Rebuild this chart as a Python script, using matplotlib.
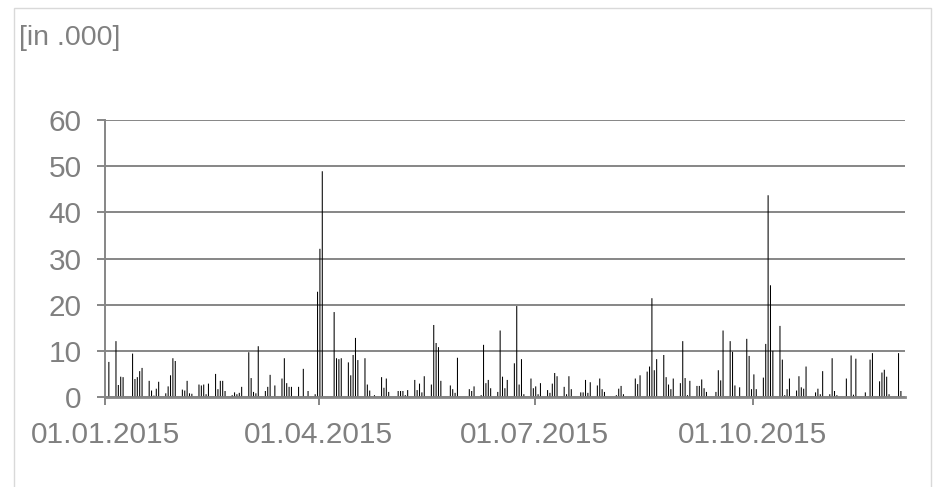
import matplotlib
matplotlib.use("Agg")
import matplotlib.pyplot as plt
import numpy as np
import pandas as pd
from matplotlib.patches import Rectangle

# ---- data: daily values (in thousands) on business days, 01.01.2015 - 02.12.2015 ----
start_date = "2015-01-01"
end_date = "2015-12-02"
values = [
    0, 7.6,                       # Thu 01.01, Fri 02.01
    12.1, 2.6, 4.4, 4.3, 0,
    9.4, 3.9, 4.3, 5.6, 6.3,
    3.5, 1.4, 0.3, 1.8, 3.3,
    0.8, 2.3, 4.7, 8.4, 7.8,
    1.6, 1.4, 3.5, 0.8, 0.7,
    2.7, 2.5, 2.7, 0.6, 2.9,
    5.0, 1.7, 3.5, 3.5, 1.3,
    0.4, 1.0, 0.6, 0.9, 2.2,
    9.7, 4.1, 1.1, 0.8, 11.0,
    1.3, 2.2, 4.8, 0, 2.5,
    4.0, 8.4, 3.0, 2.2, 2.2,
    2.2, 0, 6.1, 0, 1.3,
    0.6, 22.8, 32.1, 48.9, 0,
    0, 18.4, 8.4, 8.2, 8.4,
    7.5, 4.7, 9.1, 12.8, 8.0,
    8.4, 2.7, 1.4, 0, 0.4,
    4.3, 2.0, 4.0, 1.1, 0,
    1.3, 1.3, 1.3, 0.4, 1.5,
    3.7, 1.5, 2.9, 1.0, 4.5,
    2.7, 15.6, 11.7, 10.8, 3.5,
    0, 2.5, 1.7, 0.9, 8.5,
    0, 0, 1.7, 1.3, 2.3,
    0.4, 11.3, 3.0, 3.7, 1.9,
    1.1, 14.4, 4.4, 1.9, 3.7,
    7.3, 19.7, 2.7, 8.2, 0.6,
    4.0, 1.9, 2.3, 0.6, 3.0,
    1.5, 0.9, 2.9, 5.2, 4.5,
    2.2, 0.6, 4.5, 1.7, 0,
    1.0, 1.0, 3.7, 0.9, 3.2,
    2.5, 4.0, 1.7, 1.1, 0,
    0, 0.4, 1.8, 2.4, 0.6,
    0, 0, 4.0, 2.8, 4.7,
    5.5, 6.6, 21.4, 5.8, 8.2,
    9.1, 4.3, 2.7, 1.7, 4.0,
    3.0, 12.1, 4.1, 0.4, 3.5,
    2.4, 2.4, 3.8, 1.9, 1.1,
    0, 1.1, 5.8, 3.6, 14.4,
    12.1, 9.8, 2.5, 0, 2.1,
    12.6, 8.9, 1.7, 4.9, 1.7,
    4.2, 11.5, 43.7, 24.2, 10.0,
    15.4, 8.1, 0.4, 1.7, 4.0,
    1.4, 4.5, 2.1, 1.8, 6.6,
    0, 1.0, 1.8, 0.6, 5.6,
    0.6, 8.4, 1.3, 0.4, 0,
    4.0, 0, 9.0, 0.5, 8.3,
    0, 1.0, 0, 8.1, 9.5,
    3.4, 5.3, 5.9, 4.4, 0.6,
    0, 9.5, 1.3,
]
tick_dates = ["2015-01-01", "2015-04-01", "2015-07-01", "2015-10-01"]
tick_labels = ["01.01.2015", "01.04.2015", "01.07.2015", "01.10.2015"]
y_ticks = [0, 10, 20, 30, 40, 50, 60]
unit_label = "[in .000]"

dates = pd.bdate_range(start_date, end_date)
t0 = pd.Timestamp(start_date)
day_idx = np.array([(d - t0).days for d in dates])
vals = np.array(values[:len(day_idx)])

plt.rcParams["font.family"] = ["Liberation Sans", "DejaVu Sans"]
W, H = 939, 487
fig = plt.figure(figsize=(W / 100, H / 100), dpi=100)

grey = "#868686"
txt = "#808080"

# outer chart frame
fig.patches.append(Rectangle((13.5 / W, -0.05), (931 - 13.5) / W, 1.05 - 8.5 / H,
                             transform=fig.transFigure, fill=False,
                             edgecolor="#d9d9d9", lw=1.0))

left, right, top, bottom = 105.3, 904.7, 120, 397
ax = fig.add_axes([left / W, 1 - bottom / H, (right - left) / W, (bottom - top) / H])

ax.bar(day_idx + 0.5, vals, width=0.44, color="#000000", linewidth=0, snap=False)

ax.set_xlim(0, 337.1)
ax.set_ylim(0, 60)
ax.set_yticks(y_ticks)
ax.set_yticklabels([str(v) for v in y_ticks])
ax.set_xticks([(pd.Timestamp(d) - t0).days for d in tick_dates])
ax.set_xticklabels(tick_labels)

ax.grid(axis="y", color=grey, lw=1.4)
ax.set_axisbelow(True)
for s in ["top", "right"]:
    ax.spines[s].set_visible(False)
ax.spines["left"].set_color(grey)
ax.spines["left"].set_linewidth(1.4)
ax.spines["bottom"].set_color(grey)
ax.spines["bottom"].set_linewidth(2.0)

ax.tick_params(axis="y", length=6, width=1.4, color=grey, labelcolor=txt,
               labelsize=21.4, pad=11)
ax.tick_params(axis="x", length=6, width=1.4, color=grey, labelcolor=txt,
               labelsize=21.4, pad=11.5)

fig.text(19 / W, 1 - 45 / H, unit_label, fontsize=20.5, color=txt,
         ha="left", va="baseline")

fig.savefig("out.png", dpi=100)
